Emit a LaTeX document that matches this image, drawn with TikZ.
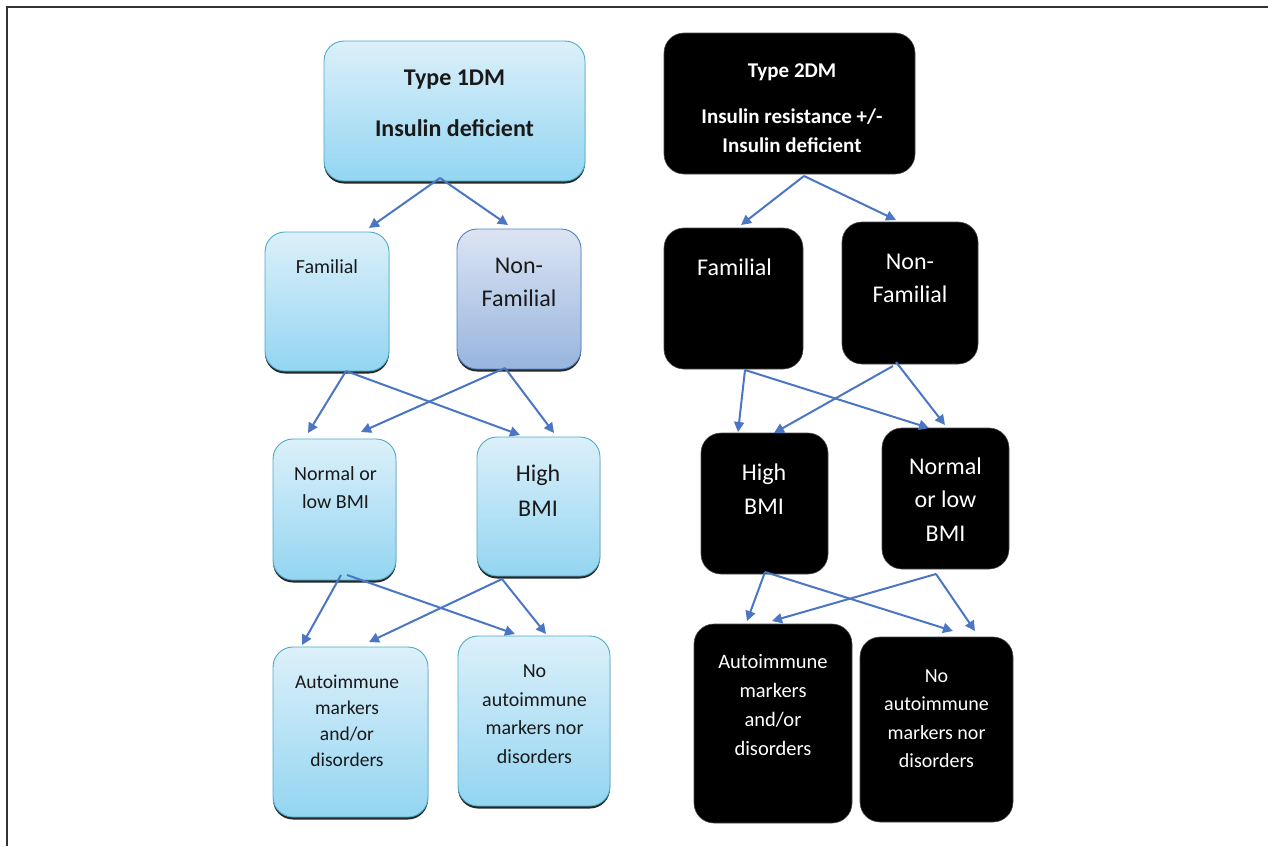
\documentclass[tikz,border=0pt]{standalone}
\usepackage{fontspec}
\setmainfont{Carlito}
\usetikzlibrary{arrows.meta,calc,shadows}
\definecolor{arrblue}{HTML}{4A76C4}
\definecolor{ltop}{HTML}{DCF0FA}
\definecolor{lbot}{HTML}{93D5F1}
\definecolor{lborder}{HTML}{4BACC6}
\definecolor{ntop}{HTML}{DCE4F3}
\definecolor{nbot}{HTML}{98B5DE}
\definecolor{nborder}{HTML}{4F81BD}
\definecolor{frame}{HTML}{333333}
\tikzset{
  boxbase/.style={rectangle, rounded corners=20pt, inner sep=0pt, outer sep=0pt},
  bluebox/.style={boxbase, draw=lborder, line width=0.9pt, top color=ltop, bottom color=lbot,
    drop shadow={shadow xshift=0pt, shadow yshift=-2.5pt, fill=black!85, opacity=1}},
  greybox/.style={boxbase, draw=nborder, line width=0.9pt, top color=ntop, bottom color=nbot,
    drop shadow={shadow xshift=0pt, shadow yshift=-2.5pt, fill=black!85, opacity=1}},
  blackbox/.style={boxbase, fill=black, draw=black!70, line width=0.6pt},
  txt/.style={align=center, inner sep=0pt, text=black!90},
  wtxt/.style={align=center, inner sep=0pt, text=white},
  arr/.style={draw=arrblue, line width=2pt, -{Triangle[length=10pt,width=10pt]}},
}
\begin{document}
\begin{tikzpicture}[x=1pt,y=-1pt]
\useasboundingbox[fill=white] (0,0) rectangle (1268,846);
% frame
\draw[frame, line width=1.5pt] (7,846) -- (7,7) -- (1268,7);

% left boxes
\node[bluebox, minimum width=261pt, minimum height=140pt] (t1) at (454.5,111) {};
\node[bluebox, minimum width=124pt, minimum height=139pt] (fam1) at (327,301.5) {};
\node[greybox, minimum width=124pt, minimum height=140pt] (non1) at (519,299) {};
\node[bluebox, minimum width=123pt, minimum height=141pt] (nor1) at (334.5,509.5) {};
\node[bluebox, minimum width=123pt, minimum height=139pt] (hi1) at (538.5,506.5) {};
\node[bluebox, minimum width=155pt, minimum height=170pt] (au1) at (350.5,732) {};
\node[bluebox, minimum width=152pt, minimum height=170pt] (no1) at (534,721) {};

% right boxes
\node[blackbox, minimum width=251pt, minimum height=141pt] (t2) at (789.5,103.5) {};
\node[blackbox, minimum width=139pt, minimum height=141pt] (fam2) at (733.5,298.5) {};
\node[blackbox, minimum width=136pt, minimum height=142pt] (non2) at (910,293) {};
\node[blackbox, minimum width=127pt, minimum height=141pt] (hi2) at (764.5,503.5) {};
\node[blackbox, minimum width=127pt, minimum height=141pt] (nor2) at (945.5,498.5) {};
\node[blackbox, minimum width=158pt, minimum height=199pt] (au2) at (773,723.5) {};
\node[blackbox, minimum width=153pt, minimum height=185pt] (no2) at (936.5,729.5) {};

% left texts
\node[txt, font=\bfseries\fontsize{24}{51}\selectfont] (t1txt) at (454.5,103.5) {Type 1DM\\Insulin deficient};
\node[txt, font=\fontsize{20}{26}\selectfont] (fam1txt) at (327,267) {Familial};
\node[txt, font=\fontsize{24}{33}\selectfont] (non1txt) at (519,282.5) {Non-\\Familial};
\node[txt, font=\fontsize{20}{28}\selectfont] (nor1txt) at (335.5,488) {Normal or\\low BMI};
\node[txt, font=\fontsize{24}{35}\selectfont] (hi1txt) at (538,490.5) {High\\BMI};
\node[txt, font=\fontsize{19.5}{26}\selectfont] (au1txt) at (347,721) {Autoimmune\\markers\\and/or\\disorders};
\node[txt, font=\fontsize{20}{28.7}\selectfont] (no1txt) at (534.5,714) {No\\autoimmune\\markers nor\\disorders};

% right texts
\node[wtxt, font=\bfseries\fontsize{21}{29}\selectfont] (t2txt) at (792,108.5) {Type 2DM\\[17pt]Insulin resistance +/-\\Insulin deficient};
\node[wtxt, font=\fontsize{24}{33}\selectfont] (fam2txt) at (734.5,267) {Familial};
\node[wtxt, font=\fontsize{24}{33}\selectfont] (non2txt) at (910,278.5) {Non-\\Familial};
\node[wtxt, font=\fontsize{24}{34}\selectfont] (hi2txt) at (764,489) {High\\BMI};
\node[wtxt, font=\fontsize{24}{33.5}\selectfont] (nor2txt) at (945.5,499.5) {Normal\\or low\\BMI};
\node[wtxt, font=\fontsize{20.5}{29}\selectfont] (au2txt) at (773,705.5) {Autoimmune\\markers\\and/or\\disorders};
\node[wtxt, font=\fontsize{20}{28.5}\selectfont] (no2txt) at (936.5,718.5) {No\\autoimmune\\markers nor\\disorders};

% left arrows
\draw[arr] ($(t1.south)+(-14.5,-3)$) -- ($(fam1.north)+(42,-4)$);
\draw[arr] ($(t1.south)+(-14.5,-3)$) -- ($(non1.north)+(-11,-4)$);
\draw[arr] ($(fam1.south)+(19,0)$) -- ($(nor1.north)+(-26.5,-6)$);
\draw[arr] ($(fam1.south)+(19,0)$) -- ($(hi1.north)+(-18.5,-2)$);
\draw[arr] ($(non1.south)+(-14,-1)$) -- ($(nor1.north)+(26.5,-7)$);
\draw[arr] ($(non1.south)+(-14,-1)$) -- ($(hi1.north)+(15.5,-4)$);
\draw[arr] ($(nor1.south)+(6.5,-5)$) -- ($(au1.north)+(-48.5,-2)$);
\draw[arr] ($(nor1.south)+(12.5,-5)$) -- ($(no1.north)+(-19,-2)$);
\draw[arr] ($(hi1.south)+(-36.5,3)$) -- ($(au1.north)+(18.5,-5)$);
\draw[arr] ($(hi1.south)+(-36.5,3)$) -- ($(no1.north)+(12,-2)$);

% right arrows
\draw[arr] ($(t2.south)+(14.5,2)$) -- ($(fam2.north)+(7.5,-3)$);
\draw[arr] ($(t2.south)+(14.5,2)$) -- ($(non2.north)+(-14,-2)$);
\draw[arr] ($(fam2.south)+(11.5,1)$) -- ($(hi2.north)+(-26.5,-1)$);
\draw[arr] ($(fam2.south)+(11.5,1)$) -- ($(nor2.north)+(-16.5,0)$);
\draw[arr] ($(non2.south)+(-17,2)$) -- ($(hi2.north)+(9.5,0)$);
\draw[arr] ($(non2.south)+(-14,-2)$) -- ($(nor2.north)+(-0.5,-3)$);
\draw[arr] ($(hi2.south)+(0.5,-2)$) -- ($(au2.north)+(-26,-3)$);
\draw[arr] ($(hi2.south)+(0.5,-2)$) -- ($(no2.north)+(16.5,-6)$);
\draw[arr] ($(nor2.south)+(-9.5,5)$) -- ($(au2.north)+(-1,-3)$);
\draw[arr] ($(nor2.south)+(-9.5,5)$) -- ($(no2.north)+(38.5,-6)$);
\end{tikzpicture}
\end{document}
